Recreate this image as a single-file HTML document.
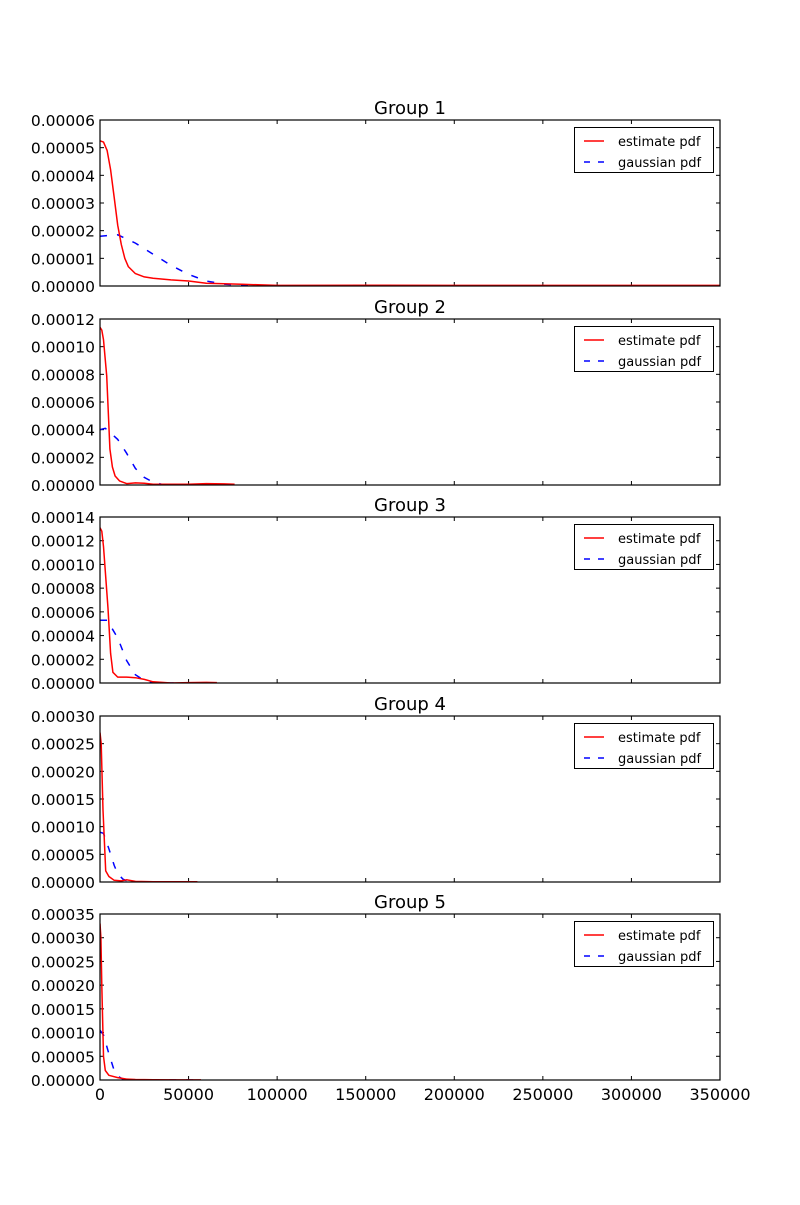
<!DOCTYPE html>
<html><head><meta charset="utf-8"><style>
body{margin:0;background:#fff;}
svg text{font-family:"DejaVu Sans","Liberation Sans",sans-serif;}
</style></head>
<body>
<svg id="chart" width="800" height="1200" viewBox="0 0 800 1200" xmlns="http://www.w3.org/2000/svg"></svg>
<script>
// x values in thousands, y values in units of 1e-5
const groupNames = ["Group 1","Group 2","Group 3","Group 4","Group 5"];
const yMaxes = [6, 12, 14, 30, 35];
const yStepVals = [1, 2, 2, 5, 5];
const xTicks = [0,50000,100000,150000,200000,250000,300000,350000];
const est1X = [0,2,4,6,8,10,12,14,16,20,25,30,40,50,60,70,80,100,150,200,250,300,350];
const est1Y = [5.25,5.2,4.9,4.2,3.2,2.2,1.5,1.0,0.7,0.45,0.33,0.28,0.22,0.18,0.1,0.08,0.06,0.02,0.03,0.02,0.02,0.02,0.02];
const gau1X = [0,10,20,30,40,50,60,70,80,100,150,200,250,300,350];
const gau1Y = [1.8,1.85,1.55,1.15,0.75,0.42,0.18,0.07,0.02,0,0,0,0,0,0];
const est2X = [0,1,2,3.8,5.6,7,8.5,11,15,20,25,30,40,50,60,70,76];
const est2Y = [11.4,11.2,10.5,7.9,2.6,1.3,0.65,0.3,0.1,0.15,0.12,0.05,0.05,0.05,0.1,0.08,0.05];
const gau2X = [0,3,10,15,20,25,30,35,40,50,60,76];
const gau2Y = [4.0,4.1,3.3,2.3,1.2,0.55,0.2,0.05,0,0,0,0];
const est3X = [0,1,2,4.5,6,7.3,10,15,20,25,30,40,50,60,66];
const est3Y = [13.1,12.8,11.5,6.3,2.5,0.9,0.5,0.5,0.45,0.3,0.1,0,0.03,0.05,0.03];
const gau3X = [0,4,10,15,20,25,30,35,45,55,66];
const gau3Y = [5.3,5.3,3.8,1.9,0.7,0.2,0.05,0,0,0,0];
const est4X = [0,0.7,1.7,3.2,5,8,12,15,20,30,40,55];
const est4Y = [27,25,13,2,1,0.3,0.2,0.4,0.1,0.05,0.05,0.03];
const gau4X = [0,2,5,8,10,13,16,20,30,40,55];
const gau4Y = [9,8.8,6,3,1.5,0.5,0.1,0,0,0,0];
const est5X = [0,0.5,1,2,3,5,10,15,20,30,45,57];
const est5Y = [33,30,20,5,2,1,0.5,0.2,0.1,0.05,0.03,0.02];
const gau5X = [0,2,5,8,10,13,16,20,35,57];
const gau5Y = [10.5,9.5,5.5,2,0.8,0.2,0.05,0,0,0];
const estXs=[est1X,est2X,est3X,est4X,est5X], estYs=[est1Y,est2Y,est3Y,est4Y,est5Y];
const gauXs=[gau1X,gau2X,gau3X,gau4X,gau5X], gauYs=[gau1Y,gau2Y,gau3Y,gau4Y,gau5Y];

const NS="http://www.w3.org/2000/svg";
const svg=document.getElementById('chart');
function mk(tag,attrs,parent){const e=document.createElementNS(NS,tag);for(const k in attrs)e.setAttribute(k,attrs[k]);(parent||svg).appendChild(e);return e;}
const L=100,R=720,tops=[120,319,517,716,914],H=166;
const xs=v=>L+(v/350000)*(R-L);
for(let g=0;g<5;g++){
  const T=tops[g],B=T+H;
  const ys=v=>B-(v/yMaxes[g])*H;
  const grp=mk('g',{});
  
  
  const t=mk('text',{x:(L+R)/2,y:T-6,'font-size':18,'text-anchor':'middle'},grp);
  t.textContent=groupNames[g];
  
  
  for(let v=0;v<=yMaxes[g]+1e-9;v+=yStepVals[g]){
    const y=ys(v);
    mk('line',{x1:L,x2:L+4,y1:y,y2:y,stroke:'#000'},grp);
    mk('line',{x1:R,x2:R-4,y1:y,y2:y,stroke:'#000'},grp);
    const lt=mk('text',{x:L-5,y:y+6,'font-size':15.5,'text-anchor':'end'},grp);
    lt.textContent=(v*1e-5).toFixed(5);
    
    
  }
  for(const xv of xTicks){
    const x=xs(xv);
    mk('line',{x1:x,x2:x,y1:B,y2:B-4,stroke:'#000'},grp);
    mk('line',{x1:x,x2:x,y1:T,y2:T+4,stroke:'#000'},grp);
    if(g===4){
      const xt=mk('text',{x:x,y:B+20,'font-size':16,'text-anchor':'middle'},grp);
      xt.textContent=String(xv);
      
      
    }
  }
  const clip=mk('clipPath',{id:'c'+g},grp);
  mk('rect',{x:L,y:T,width:R-L,height:H},clip);
  const gp=gauXs[g].map((x,i)=>xs(x*1000).toFixed(1)+','+ys(gauYs[g][i]).toFixed(1)).join(' ');
  const gl=mk('polyline',{points:gp,fill:'none',stroke:'#0000ff','stroke-width':1.5,'stroke-dasharray':'7,10','clip-path':'url(#c'+g+')'},grp);
  
  
  const ep=estXs[g].map((x,i)=>xs(x*1000).toFixed(1)+','+ys(estYs[g][i]).toFixed(1)).join(' ');
  const el=mk('polyline',{points:ep,fill:'none',stroke:'#ff0000','stroke-width':1.5,'stroke-linejoin':'round','clip-path':'url(#c'+g+')'},grp);
  
  
  mk('rect',{x:L,y:T,width:R-L,height:H,fill:'none',stroke:'#000','stroke-width':1.2},grp);
  const lg=mk('g',{},grp);
  
  
  mk('rect',{x:574.5,y:T+7.5,width:139,height:45,fill:'#fff',stroke:'#000','stroke-width':1},lg);
  mk('line',{x1:584,x2:604,y1:T+21,y2:T+21,stroke:'#ff0000','stroke-width':1.5},lg);
  mk('line',{x1:584,x2:604,y1:T+42,y2:T+42,stroke:'#0000ff','stroke-width':1.5,'stroke-dasharray':'6,8'},lg);
  const e1=mk('text',{x:618,y:T+26,'font-size':13},lg);e1.textContent='estimate pdf';
  
  
  const e2=mk('text',{x:618,y:T+47,'font-size':13},lg);e2.textContent='gaussian pdf';
  
  
}
</script>
</body></html>
